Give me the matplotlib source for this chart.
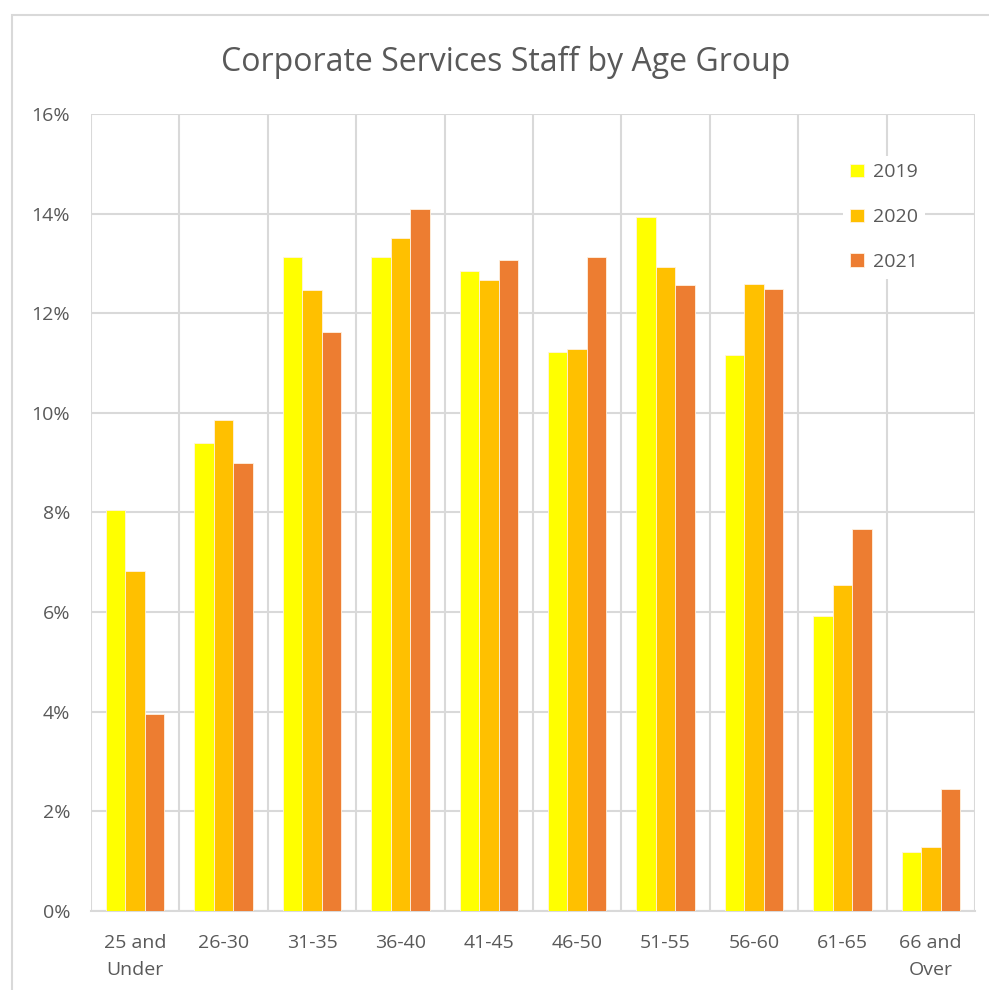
import numpy as np
import matplotlib.pyplot as plt
from matplotlib.patches import Rectangle
from matplotlib.ticker import FixedLocator

plt.rcParams['font.family'] = ['Open Sans', 'DejaVu Sans']

# age groups and share of staff (%) per year
groups = ['25 and\nUnder', '26-30', '31-35', '36-40', '41-45',
          '46-50', '51-55', '56-60', '61-65', '66 and\nOver']
y2019 = [8.04, 9.40, 13.13, 13.13, 12.85, 11.23, 13.94, 11.16, 5.92, 1.19]
y2020 = [6.83, 9.86, 12.46, 13.52, 12.67, 11.28, 12.93, 12.59, 6.54, 1.29]
y2021 = [3.96, 8.99, 11.62, 14.09, 13.06, 13.12, 12.57, 12.49, 7.67, 2.44]
years = ['2019', '2020', '2021']
colors = ['#FFFF00', '#FFC000', '#ED7D31']

fig = plt.figure(figsize=(9.89, 9.90), dpi=100)
ax = fig.add_axes([91/989, 1 - 910.8/990, 884/989, 796.8/990])

x = np.arange(len(groups))
w = 0.22
for i, (vals, c, lab) in enumerate(zip([y2019, y2020, y2021], colors, years)):
    ax.bar(x + (i - 1) * w, vals, width=w, color=c, label=lab,
           edgecolor='#FFF2E0', linewidth=0.6, zorder=3)

ax.set_xlim(-0.5, len(groups) - 0.5)
ax.set_ylim(0, 16)
ax.set_yticks(np.arange(0, 17, 2))
ax.set_yticklabels([f'{v}%' for v in range(0, 17, 2)])
ax.set_xticks(x)
ax.set_xticklabels(groups, linespacing=1.6)
ax.xaxis.set_minor_locator(FixedLocator(np.arange(-0.5, len(groups), 1)))

ax.grid(axis='y', color='#D9D9D9', linewidth=1.5, zorder=0)
ax.grid(axis='x', which='minor', color='#D9D9D9', linewidth=1.5, zorder=0)
ax.tick_params(axis='both', which='both', length=0, labelsize=14, colors='#595959')
ax.tick_params(axis='x', pad=17)
ax.tick_params(axis='y', pad=15)
for s in ['top', 'right', 'left']:
    ax.spines[s].set_visible(False)
ax.spines['bottom'].set_color('#D9D9D9')
ax.spines['bottom'].set_linewidth(1.5)

leg = ax.legend(loc='upper right', bbox_to_anchor=(0.955, 0.96), frameon=True,
                fontsize=14, handlelength=0.7, handleheight=0.7,
                labelspacing=1.38, handletextpad=0.45, borderpad=0.4)
leg.get_frame().set_facecolor('white')
leg.get_frame().set_edgecolor('none')
leg.get_frame().set_alpha(1)
for t in leg.get_texts():
    t.set_color('#595959')

fig.text(506/989, 1 - 62/990, 'Corporate Services Staff by Age Group',
         ha='center', va='center', fontsize=23, color='#595959')

# chart frame
fig.patches.append(Rectangle((12/989, -0.05), 1.1, 1.05 - 15/990,
                             transform=fig.transFigure, fill=False,
                             edgecolor='#D9D9D9', linewidth=1.5))

fig.savefig('out.png', dpi=100, facecolor='white')
